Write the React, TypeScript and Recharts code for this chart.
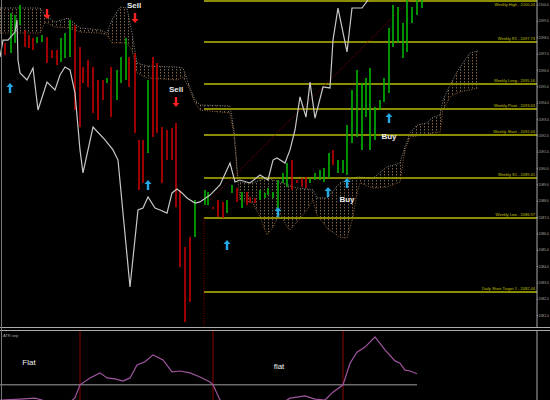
import React from "react";
import {
  ComposedChart,
  XAxis,
  YAxis,
  Line,
  Area,
  Scatter,
  ErrorBar,
  ReferenceLine,
} from "recharts";

// price bars (x = bar time position, high / low in points)
const upBars = [
  { x: 11, high: 2099.51, low: 2097.06 },
  { x: 15, high: 2099.38, low: 2097.67 },
  { x: 20, high: 2099.99, low: 2098.77 },
  { x: 37, high: 2098.04, low: 2097.67 },
  { x: 42, high: 2098.16, low: 2097.73 },
  { x: 61, high: 2097.98, low: 2096.51 },
  { x: 65, high: 2098.28, low: 2096.75 },
  { x: 70, high: 2099.08, low: 2096.81 },
  { x: 107, high: 2095.53, low: 2095.22 },
  { x: 117, high: 2096.02, low: 2094.18 },
  { x: 121, high: 2096.81, low: 2095.22 },
  { x: 126, high: 2097.98, low: 2095.41 },
  { x: 148, high: 2095.41, low: 2090.94 },
  { x: 195, high: 2088.07, low: 2085.8 },
  { x: 205, high: 2088.68, low: 2087.76 },
  { x: 208, high: 2088.56, low: 2087.76 },
  { x: 227, high: 2088.07, low: 2087.27 },
  { x: 232, high: 2088.99, low: 2088.5 },
  { x: 242, high: 2088.56, low: 2087.58 },
  { x: 260, high: 2088.68, low: 2088.07 },
  { x: 265, high: 2088.5, low: 2088.19 },
  { x: 268, high: 2088.8, low: 2088.37 },
  { x: 273, high: 2088.56, low: 2088.19 },
  { x: 278, high: 2089.29, low: 2087.27 },
  { x: 283, high: 2089.72, low: 2089.11 },
  { x: 287, high: 2090.33, low: 2088.86 },
  { x: 310, high: 2089.41, low: 2089.11 },
  { x: 315, high: 2089.72, low: 2089.29 },
  { x: 320, high: 2089.9, low: 2089.29 },
  { x: 324, high: 2090.02, low: 2089.17 },
  { x: 329, high: 2090.94, low: 2089.41 },
  { x: 338, high: 2090.51, low: 2089.72 },
  { x: 343, high: 2090.51, low: 2089.72 },
  { x: 347, high: 2092.65, low: 2089.6 },
  { x: 352, high: 2094.8, low: 2091.55 },
  { x: 357, high: 2096.02, low: 2091.92 },
  { x: 362, high: 2095.22, low: 2091.13 },
  { x: 366, high: 2095.53, low: 2093.14 },
  { x: 370, high: 2096.14, low: 2091.13 },
  { x: 375, high: 2093.76, low: 2091.74 },
  { x: 380, high: 2094.18, low: 2093.57 },
  { x: 384, high: 2095.53, low: 2094.06 },
  { x: 389, high: 2098.59, low: 2094.61 },
  { x: 393, high: 2099.99, low: 2097.43 },
  { x: 398, high: 2099.87, low: 2097.67 },
  { x: 403, high: 2098.89, low: 2096.75 },
  { x: 407, high: 2100.3, low: 2097.12 },
  { x: 412, high: 2099.87, low: 2098.89 },
  { x: 417, high: 2100.3, low: 2099.38 },
  { x: 422, high: 2100.3, low: 2099.81 },
];

const downBars = [
  { x: 5, high: 2097.67, low: 2096.94 },
  { x: 25, high: 2098.47, low: 2097.43 },
  { x: 29, high: 2098.16, low: 2097.36 },
  { x: 33, high: 2097.98, low: 2097.24 },
  { x: 47, high: 2098.04, low: 2096.45 },
  { x: 52, high: 2097.24, low: 2096.75 },
  { x: 57, high: 2097.24, low: 2096.32 },
  { x: 75, high: 2098.77, low: 2093.57 },
  { x: 80, high: 2097.43, low: 2092.53 },
  { x: 83, high: 2096.2, low: 2095.22 },
  { x: 88, high: 2096.63, low: 2094.98 },
  { x: 93, high: 2096.2, low: 2093.39 },
  { x: 98, high: 2095.41, low: 2092.96 },
  { x: 103, high: 2095.41, low: 2094.18 },
  { x: 111, high: 2096.2, low: 2093.14 },
  { x: 129, high: 2096.81, low: 2094.98 },
  { x: 135, high: 2097.06, low: 2092.17 },
  { x: 139, high: 2091.74, low: 2088.68 },
  { x: 143, high: 2091.74, low: 2089.11 },
  { x: 153, high: 2096.81, low: 2091.92 },
  { x: 157, high: 2096.45, low: 2092.17 },
  { x: 162, high: 2092.53, low: 2089.11 },
  { x: 167, high: 2092.35, low: 2090.51 },
  { x: 172, high: 2092.47, low: 2090.51 },
  { x: 176, high: 2092.78, low: 2087.64 },
  { x: 180, high: 2088.68, low: 2083.97 },
  { x: 185, high: 2085.19, low: 2080.61 },
  { x: 190, high: 2085.8, low: 2081.83 },
  { x: 213, high: 2087.64, low: 2087.52 },
  { x: 218, high: 2088.07, low: 2087.03 },
  { x: 223, high: 2087.95, low: 2086.97 },
  { x: 237, high: 2088.8, low: 2087.95 },
  { x: 247, high: 2088.56, low: 2087.76 },
  { x: 250, high: 2088.25, low: 2087.88 },
  { x: 255, high: 2088.19, low: 2087.88 },
  { x: 292, high: 2090.51, low: 2088.68 },
  { x: 297, high: 2089.29, low: 2089.11 },
  { x: 302, high: 2089.41, low: 2088.86 },
  { x: 306, high: 2089.47, low: 2088.8 },
  { x: 333, high: 2091.13, low: 2090.21 },
];

// ichimoku style cloud (upper / lower edge)
const cloud = [
  { x: 0, hi: 2099.81, lo: 2098.28 },
  { x: 40, hi: 2099.81, lo: 2098.28 },
  { x: 45, hi: 2099.38, lo: 2098.95 },
  { x: 55, hi: 2098.95, lo: 2098.65 },
  { x: 68, hi: 2099.2, lo: 2098.59 },
  { x: 80, hi: 2098.59, lo: 2098.34 },
  { x: 100, hi: 2098.47, lo: 2098.28 },
  { x: 107, hi: 2098.28, lo: 2098.16 },
  { x: 112, hi: 2099.08, lo: 2097.67 },
  { x: 120, hi: 2099.87, lo: 2097.67 },
  { x: 127, hi: 2099.81, lo: 2097.67 },
  { x: 132, hi: 2098.28, lo: 2097.24 },
  { x: 137, hi: 2096.45, lo: 2095.84 },
  { x: 147, hi: 2096.26, lo: 2095.53 },
  { x: 177, hi: 2096.2, lo: 2095.41 },
  { x: 183, hi: 2096.14, lo: 2095.59 },
  { x: 190, hi: 2094.92, lo: 2094.8 },
  { x: 195, hi: 2094.18, lo: 2094.0 },
  { x: 200, hi: 2093.88, lo: 2093.57 },
  { x: 230, hi: 2093.82, lo: 2093.39 },
  { x: 234, hi: 2092.35, lo: 2092.04 },
  { x: 238, hi: 2089.29, lo: 2089.17 },
  { x: 240, hi: 2089.17, lo: 2088.07 },
  { x: 253, hi: 2089.11, lo: 2087.88 },
  { x: 260, hi: 2089.29, lo: 2087.03 },
  { x: 267, hi: 2089.41, lo: 2085.93 },
  { x: 273, hi: 2089.29, lo: 2086.42 },
  { x: 280, hi: 2089.17, lo: 2087.27 },
  { x: 287, hi: 2089.05, lo: 2086.42 },
  { x: 290, hi: 2088.92, lo: 2086.23 },
  { x: 297, hi: 2088.8, lo: 2086.72 },
  { x: 307, hi: 2088.74, lo: 2087.46 },
  { x: 313, hi: 2088.68, lo: 2088.07 },
  { x: 317, hi: 2088.19, lo: 2087.15 },
  { x: 327, hi: 2088.19, lo: 2086.35 },
  { x: 340, hi: 2089.11, lo: 2085.8 },
  { x: 347, hi: 2089.29, lo: 2085.74 },
  { x: 353, hi: 2089.41, lo: 2087.03 },
  { x: 357, hi: 2089.47, lo: 2088.5 },
  { x: 360, hi: 2089.47, lo: 2089.11 },
  { x: 373, hi: 2089.41, lo: 2088.8 },
  { x: 387, hi: 2090.09, lo: 2088.86 },
  { x: 400, hi: 2090.33, lo: 2089.17 },
  { x: 405, hi: 2091.31, lo: 2091.13 },
  { x: 410, hi: 2092.17, lo: 2091.92 },
  { x: 417, hi: 2092.65, lo: 2091.98 },
  { x: 427, hi: 2092.78, lo: 2092.1 },
  { x: 433, hi: 2093.14, lo: 2092.17 },
  { x: 440, hi: 2093.27, lo: 2092.23 },
  { x: 443, hi: 2094.18, lo: 2093.57 },
  { x: 450, hi: 2095.1, lo: 2094.37 },
  { x: 457, hi: 2095.9, lo: 2094.61 },
  { x: 463, hi: 2096.45, lo: 2094.73 },
  { x: 470, hi: 2097.06, lo: 2094.8 },
  { x: 478, hi: 2097.18, lo: 2094.92 },
];

// white lagging line
const lagLine = [
  { x: 0, p: 2096.81 }, { x: 3, p: 2097.85 }, { x: 8, p: 2097.85 },
  { x: 15, p: 2098.34 }, { x: 17, p: 2099.08 }, { x: 18, p: 2096.63 },
  { x: 20, p: 2095.84 }, { x: 27, p: 2095.41 }, { x: 33, p: 2096.14 },
  { x: 38, p: 2093.57 }, { x: 47, p: 2095.28 }, { x: 55, p: 2094.8 },
  { x: 60, p: 2095.71 }, { x: 65, p: 2096.2 }, { x: 70, p: 2096.02 },
  { x: 75, p: 2094.61 }, { x: 80, p: 2091.13 }, { x: 83, p: 2089.72 },
  { x: 88, p: 2091.13 }, { x: 93, p: 2092.53 }, { x: 105, p: 2091.74 },
  { x: 113, p: 2091.13 }, { x: 118, p: 2090.51 }, { x: 130, p: 2082.75 },
  { x: 138, p: 2087.46 }, { x: 143, p: 2087.58 }, { x: 148, p: 2088.25 },
  { x: 155, p: 2087.58 }, { x: 160, p: 2087.46 }, { x: 167, p: 2087.27 },
  { x: 172, p: 2088.5 }, { x: 177, p: 2088.74 }, { x: 182, p: 2088.5 },
  { x: 187, p: 2088.19 }, { x: 195, p: 2087.88 }, { x: 200, p: 2087.95 },
  { x: 210, p: 2088.37 }, { x: 220, p: 2088.99 }, { x: 230, p: 2090.33 },
  { x: 235, p: 2089.17 }, { x: 240, p: 2089.29 }, { x: 250, p: 2089.11 },
  { x: 260, p: 2089.6 }, { x: 268, p: 2089.29 }, { x: 273, p: 2090.51 },
  { x: 277, p: 2090.64 }, { x: 285, p: 2090.33 }, { x: 290, p: 2091.13 },
  { x: 295, p: 2092.35 }, { x: 300, p: 2094.37 }, { x: 306, p: 2093.14 },
  { x: 310, p: 2095.28 }, { x: 315, p: 2093.08 }, { x: 323, p: 2094.98 },
  { x: 330, p: 2094.92 }, { x: 333, p: 2097.85 }, { x: 338, p: 2099.81 },
  { x: 347, p: 2097.12 }, { x: 352, p: 2099.81 }, { x: 362, p: 2099.81 },
  { x: 368, p: 2100.3 },
];

const trendLine = [
  { x: 203, p: 2087.64 },
  { x: 410, p: 2100.3 },
];

const levelNames = [
  "Weekly High - 2100.24",
  "Weekly R1 - 2097.73",
  "Weekly Long - 2095.16",
  "Weekly Pivot - 2093.63",
  "Weekly Short - 2092.04",
  "Weekly S1 - 2089.41",
  "Weekly Low - 2086.97",
  "Daily Short Target 1 - 2082.44",
];
const levelPrices = [2100.24, 2097.73, 2095.16, 2093.63, 2092.04, 2089.41, 2086.97, 2082.44];
const levelStart = 204;

const buyArrows = [
  { x: 10, p: 2094.92 },
  { x: 148, p: 2088.99 },
  { x: 227, p: 2085.32 },
  { x: 278, p: 2087.33 },
  { x: 328, p: 2088.56 },
  { x: 347, p: 2089.11 },
  { x: 389, p: 2093.08 },
];
const sellArrows = [
  { x: 47, p: 2099.44 },
  { x: 135, p: 2099.2 },
  { x: 176, p: 2094.06 },
];
const signalText = [
  { x: 134, p: 2099.95, t: "Sell" },
  { x: 176, p: 2094.8, t: "Sell" },
  { x: 347, p: 2088.07, t: "Buy" },
  { x: 389, p: 2091.92, t: "Buy" },
];

const priceTicks = [
  2081, 2082, 2083, 2084, 2085, 2086, 2087, 2088, 2089, 2090,
  2091, 2092, 2093, 2094, 2095, 2096, 2097, 2098, 2099, 2100,
];

// lower panel oscillator
const oscLine = [
  { x: 0, v: 0.0 }, { x: 10, v: 0.01 }, { x: 20, v: 0.02 }, { x: 35, v: 0.04 },
  { x: 42, v: 0.0 }, { x: 50, v: -0.1 }, { x: 70, v: -0.05 }, { x: 75, v: 0.05 },
  { x: 80, v: 0.33 }, { x: 90, v: 0.48 }, { x: 100, v: 0.59 }, { x: 107, v: 0.48 },
  { x: 115, v: 0.46 }, { x: 123, v: 0.41 }, { x: 130, v: 0.48 }, { x: 137, v: 0.76 },
  { x: 145, v: 0.83 }, { x: 153, v: 0.98 }, { x: 163, v: 0.87 }, { x: 172, v: 0.61 },
  { x: 180, v: 0.63 }, { x: 190, v: 0.59 }, { x: 200, v: 0.5 }, { x: 210, v: 0.39 },
  { x: 213, v: 0.33 }, { x: 220, v: 0.0 }, { x: 230, v: -0.2 }, { x: 280, v: -0.1 },
  { x: 290, v: 0.04 }, { x: 305, v: 0.09 }, { x: 315, v: 0.02 }, { x: 325, v: 0.0 },
  { x: 333, v: 0.17 }, { x: 343, v: 0.33 }, { x: 350, v: 0.8 }, { x: 357, v: 1.04 },
  { x: 365, v: 1.15 }, { x: 375, v: 1.37 }, { x: 385, v: 1.09 }, { x: 395, v: 0.85 },
  { x: 400, v: 0.8 }, { x: 405, v: 0.65 }, { x: 410, v: 0.63 }, { x: 417, v: 0.57 },
];
const oscLevel = 0.33;
const oscLevelEnd = 417;
const crossLines = [80, 213, 343];
const oscText = [
  { x: 29, v: 0.8, t: "Flat" },
  { x: 279, v: 0.72, t: "flat" },
];

const barRange = (d: { high: number; low: number }) => [d.high - d.low, 0];
const noDot = () => <g />;

const UpArrow = (props: any) => {
  const { cx, cy } = props;
  return (
    <path
      d={`M${cx},${cy - 5} L${cx + 3.5},${cy - 1} L${cx + 1.2},${cy - 1} L${cx + 1.2},${cy + 5} L${cx - 1.2},${cy + 5} L${cx - 1.2},${cy - 1} L${cx - 3.5},${cy - 1} Z`}
      fill="#25a9e6"
    />
  );
};

const DownArrow = (props: any) => {
  const { cx, cy } = props;
  return (
    <path
      d={`M${cx},${cy + 5} L${cx + 3.5},${cy + 1} L${cx + 1.2},${cy + 1} L${cx + 1.2},${cy - 5} L${cx - 1.2},${cy - 5} L${cx - 1.2},${cy + 1} L${cx - 3.5},${cy + 1} Z`}
      fill="#ff2020"
    />
  );
};

const Caption = (props: any) => {
  const { cx, cy, payload } = props;
  return (
    <text
      x={cx}
      y={cy}
      textAnchor="middle"
      dominantBaseline="middle"
      fill="#ececec"
      fontSize={8}
      fontWeight="bold"
    >
      {payload.t}
    </text>
  );
};

const axisTick = { fontSize: 3.4, fill: "#aaa" };

export default function App() {
  return (
    <div
      style={{
        position: "absolute",
        left: 0,
        top: 0,
        width: 550,
        height: 400,
        background: "#000",
        overflow: "hidden",
        fontFamily: "'Liberation Sans', Arial, sans-serif",
      }}
    >
      <ComposedChart width={550} height={327} margin={{ top: 0, right: 0, bottom: 0, left: 0 }}>
        <defs>
          <pattern id="cloudHatch" width={4} height={3} patternUnits="userSpaceOnUse">
            <rect x={0} y={0} width={1} height={1.5} fill="#7e6448" />
          </pattern>
        </defs>
        <XAxis type="number" dataKey="x" domain={[0, 537]} allowDataOverflow hide />
        <YAxis
          orientation="right"
          type="number"
          domain={[2080.3, 2100.3]}
          allowDataOverflow
          ticks={priceTicks}
          width={13}
          axisLine={{ stroke: "#aaa" }}
          tickLine={{ stroke: "#aaa" }}
          tickSize={1}
          tickMargin={0.5}
          tick={axisTick}
          tickFormatter={(v: number) => v.toFixed(1)}
        />
        <Area
          data={cloud}
          dataKey={(d: any) => [d.lo, d.hi]}
          fill="url(#cloudHatch)"
          fillOpacity={1}
          stroke="none"
          activeDot={false}
          isAnimationActive={false}
        />
        <Line data={cloud} dataKey="hi" stroke="#8a8a8a" strokeDasharray="1 1.5" dot={false} activeDot={false} isAnimationActive={false} />
        <Line data={cloud} dataKey="lo" stroke="#93633a" strokeDasharray="1 1.5" dot={false} activeDot={false} isAnimationActive={false} />
        {levelPrices.map((p, i) => (
          <ReferenceLine
            key={levelNames[i]}
            segment={[
              { x: levelStart, y: p },
              { x: 537, y: p },
            ]}
            stroke={i === 5 ? "#b4b400" : "#8c8c00"}
            strokeWidth={i === 5 ? 1.5 : 2}
            ifOverflow="visible"
            label={{
              value: levelNames[i],
              position: i === 0 ? "insideTopRight" : "insideBottomRight",
              offset: 2,
              fill: "#c0c000",
              fontSize: 4,
            }}
          />
        ))}
        <ReferenceLine
          segment={[
            { x: levelStart, y: levelPrices[6] },
            { x: levelStart, y: 2080.3 },
          ]}
          stroke="#a00000"
          strokeDasharray="1 1.5"
        />
        <Line data={trendLine} dataKey="p" stroke="#8b0000" strokeDasharray="1 1.5" dot={false} activeDot={false} isAnimationActive={false} />
        <Scatter data={upBars} dataKey="high" shape={noDot} isAnimationActive={false}>
          <ErrorBar dataKey={barRange} direction="y" width={0} stroke="#00b400" strokeWidth={1.6} />
        </Scatter>
        <Scatter data={downBars} dataKey="high" shape={noDot} isAnimationActive={false}>
          <ErrorBar dataKey={barRange} direction="y" width={0} stroke="#c40000" strokeWidth={1.6} />
        </Scatter>
        <Line data={lagLine} dataKey="p" stroke="#c8c8c8" strokeWidth={1.2} dot={false} activeDot={false} isAnimationActive={false} />
        <Scatter data={buyArrows} dataKey="p" shape={UpArrow} isAnimationActive={false} />
        <Scatter data={sellArrows} dataKey="p" shape={DownArrow} isAnimationActive={false} />
        <Scatter data={signalText} dataKey="p" shape={Caption} isAnimationActive={false} />
      </ComposedChart>
      <div
        style={{
          height: 2,
          borderTop: "1px solid #aaa",
          borderBottom: "1px solid #aaa",
        }}
      />
      <ComposedChart width={550} height={69} margin={{ top: 0, right: 0, bottom: 0, left: 0 }}>
        <XAxis type="number" dataKey="x" domain={[0, 537]} allowDataOverflow hide />
        <YAxis
          orientation="right"
          type="number"
          domain={[0, 1.5]}
          allowDataOverflow
          ticks={[1.4]}
          width={13}
          axisLine={{ stroke: "#aaa" }}
          tickLine={{ stroke: "#aaa" }}
          tickSize={1}
          tickMargin={0.5}
          tick={axisTick}
          tickFormatter={() => "1.537"}
        />
        {crossLines.map((x) => (
          <ReferenceLine key={x} x={x} stroke="#8b0000" />
        ))}
        <ReferenceLine
          segment={[
            { x: 0, y: oscLevel },
            { x: oscLevelEnd, y: oscLevel },
          ]}
          stroke="#a0a0a0"
        />
        <Line data={oscLine} dataKey="v" stroke="#a055a0" strokeWidth={1.2} dot={false} activeDot={false} isAnimationActive={false} />
        <Scatter
          data={oscText}
          dataKey="v"
          isAnimationActive={false}
          shape={(props: any) => (
            <text x={props.cx} y={props.cy} textAnchor="middle" dominantBaseline="middle" fill="#f0f0f0" fontSize={8}>
              {props.payload.t}
            </text>
          )}
        />
      </ComposedChart>
      <div style={{ position: "absolute", left: 3, top: 333, fontSize: 4, color: "#aaa" }}>ATR sep</div>
      <div style={{ position: "absolute", left: 1, top: 0, width: 1, height: 400, background: "#777" }} />
    </div>
  );
}
